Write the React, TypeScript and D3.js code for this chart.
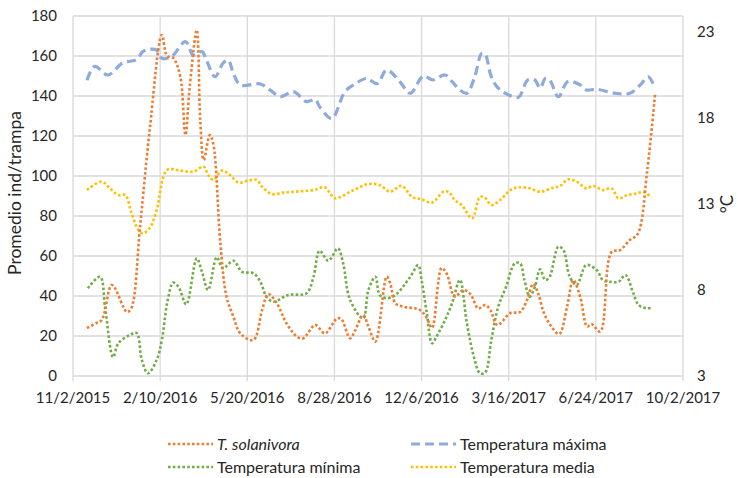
import React from "react";
import * as d3 from "d3";

// Day offsets from 2015-11-02, with values
const solanivora: [number, number][] = [
  [16, 24], [27, 26.5], [33, 28], [44, 45.5], [48, 44], [62, 32], [67, 34], [77, 75], [88, 123],
  [102, 170.5], [108, 160], [115, 159], [123, 150], [129, 120.5], [134, 145], [142, 173],
  [146, 128], [150, 108], [157, 120.5], [161, 116], [169, 67], [176, 40], [184, 29.7], [192, 21.3],
  [207, 18], [217, 33], [224, 41], [234, 36.3], [245, 26.3], [257, 19.7], [264, 18.8], [278, 25.5],
  [289, 21.3], [303, 28.8], [308, 28.4], [318, 18.8], [324, 23], [333, 30.5], [339, 24.7], [347, 17.2],
  [360, 49.7], [364, 46.3], [370, 36.3], [379, 34.7], [398, 33], [406, 29], [412, 24], [423, 54],
  [429, 51], [438, 39.7], [448, 43], [456, 41], [465, 33.8], [473, 35.5], [479, 33], [487, 25.5],
  [502, 31.5], [513, 32], [521, 38], [528, 46], [534, 41], [540, 32], [549, 24.7], [558, 21],
  [567, 34.7], [574, 48], [582, 39.7], [590, 24.7], [595, 26], [605, 22.2], [618, 62], [628, 63],
  [639, 68], [648, 71], [659, 103], [668, 141.3],
];

const tempMax: [number, number][] = [
  [16, 20.2], [25, 21.0], [40, 20.5], [57, 21.2], [73, 21.4], [80, 21.86], [88, 22.0], [96, 21.95],
  [102, 21.47], [113, 21.56], [129, 22.44], [138, 21.66], [148, 21.86], [153, 21.37], [163, 20.4],
  [172, 21.18], [178, 21.37], [184, 20.6], [192, 19.92], [215, 19.98], [226, 19.63], [238, 19.24],
  [253, 19.53], [268, 18.95], [278, 19.08], [283, 18.66], [297, 17.98], [312, 19.53], [322, 19.92],
  [337, 20.3], [349, 20.0], [360, 20.79], [375, 20.11], [387, 19.44], [402, 20.44], [413, 20.21],
  [427, 20.5], [435, 20.11], [444, 19.63], [452, 19.44], [461, 20.4], [469, 21.76], [473, 21.7],
  [480, 20.4], [488, 19.73], [500, 19.34], [511, 19.2], [522, 20.21], [530, 20.21], [536, 19.73],
  [542, 20.3], [547, 20.21], [557, 19.24], [568, 20.12], [582, 19.92], [589, 19.63], [601, 19.67],
  [622, 19.44], [639, 19.44], [651, 19.92], [660, 20.4], [668, 19.73],
];

const tempMin: [number, number][] = [
  [17, 8.1], [31, 8.77], [37, 6.9], [46, 4.1], [52, 4.9], [65, 5.38], [73, 5.5], [79, 3.93],
  [86, 3.16], [96, 3.93], [102, 5.09], [108, 7.23], [115, 8.43], [121, 8.19], [130, 7.17],
  [142, 9.84], [148, 9.06], [155, 8.0], [165, 9.9], [172, 9.26], [184, 9.7], [194, 9.06],
  [207, 8.97], [215, 8.48], [222, 7.61], [230, 7.32], [247, 7.71], [268, 7.81], [276, 8.77],
  [283, 10.28], [293, 9.7], [304, 10.42], [310, 9.55], [318, 7.42], [333, 6.35], [339, 8.0],
  [347, 8.77], [352, 7.71], [360, 7.52], [370, 7.71], [387, 8.77], [396, 9.45], [400, 8.58],
  [406, 6.65], [412, 4.9], [417, 5.28], [427, 6.26], [435, 7.23], [444, 8.58], [452, 6.06],
  [460, 4.12], [467, 3.16], [473, 3.2], [480, 5.09], [488, 7.03], [497, 8.19], [507, 9.55],
  [513, 9.55], [518, 8.58], [524, 7.61], [530, 8.19], [536, 9.2], [542, 8.58], [547, 8.77],
  [557, 10.52], [563, 10.3], [570, 8.77], [578, 8.29], [589, 9.45], [601, 9.16], [608, 8.58],
  [616, 8.48], [626, 8.48], [634, 8.87], [643, 7.81], [649, 7.13], [658, 6.94], [664, 6.97],
];

const tempMedia: [number, number][] = [
  [16, 13.81], [33, 14.3], [42, 13.93], [52, 13.52], [60, 13.52], [67, 12.48], [75, 11.49],
  [80, 11.3], [88, 11.6], [96, 12.65], [108, 14.98], [123, 14.94], [138, 14.88], [150, 15.17],
  [155, 14.69], [161, 14.4], [171, 14.94], [180, 14.69], [190, 14.24], [201, 14.36], [211, 14.4],
  [217, 14.0], [228, 13.58], [241, 13.66], [253, 13.71], [276, 13.81], [289, 13.97], [295, 13.62],
  [301, 13.33], [322, 13.81], [339, 14.16], [352, 14.1], [364, 13.71], [377, 14.06], [389, 13.42],
  [400, 13.27], [412, 13.08], [425, 13.71], [431, 13.71], [438, 13.23], [446, 12.94], [458, 12.17],
  [467, 13.42], [473, 13.35], [480, 12.94], [490, 13.23], [502, 13.81], [511, 13.97], [524, 13.91],
  [536, 13.71], [551, 13.95], [559, 14.05], [568, 14.43], [578, 14.3], [589, 13.91], [597, 14.05],
  [608, 13.81], [618, 13.91], [626, 13.33], [636, 13.52], [648, 13.62], [654, 13.71], [664, 13.38],
];

const leftTicks = [0, 20, 40, 60, 80, 100, 120, 140, 160, 180];
const rightTicks = [3, 8, 13, 18, 23];
const xTickDays = [0, 100, 200, 300, 400, 500, 600, 700];
const legendLabels = ["T. solanivora", "Temperatura máxima", "Temperatura mínima", "Temperatura media"];

const START = Date.UTC(2015, 10, 2);
const DAY = 86400000;
const toDate = (d: number) => new Date(START + d * DAY);

const W = 738;
const H = 478;
const L = 73;
const R = 683;
const T = 16;
const B = 376;
const FONT = "Lato, 'Open Sans', sans-serif";

export default function App() {
  const x = d3.scaleUtc().domain([toDate(0), toDate(700)]).range([L, R]);
  const yL = d3.scaleLinear().domain([0, 180]).range([B, T]);
  const yR = d3.scaleLinear().domain([3, 23.93]).range([B, T]);
  const fmt = (d: Date) => `${d.getUTCMonth() + 1}/${d.getUTCDate()}/${d.getUTCFullYear()}`;

  const curve = d3.curveCatmullRom.alpha(0.5);
  const lineL = d3.line<[number, number]>().x((p) => x(toDate(p[0]))).y((p) => yL(p[1])).curve(curve);
  const lineR = d3.line<[number, number]>().x((p) => x(toDate(p[0]))).y((p) => yR(p[1])).curve(curve);

  const dot = { strokeWidth: 2.6, strokeDasharray: "2.6,2.2", fill: "none" } as const;
  const dash = { strokeWidth: 3.2, strokeDasharray: "9,5", fill: "none" } as const;

  const orange = "#ED7D31";
  const blue = "#8FAADC";
  const green = "#70AD47";
  const yellow = "#FFC000";

  const legend = [
    { label: legendLabels[0], color: orange, style: dot, lx: 168, ly: 444, italic: true },
    { label: legendLabels[1], color: blue, style: dash, lx: 411, ly: 444, italic: false },
    { label: legendLabels[2], color: green, style: dot, lx: 168, ly: 467, italic: false },
    { label: legendLabels[3], color: yellow, style: dot, lx: 411, ly: 467, italic: false },
  ];

  return (
    <svg width={W} height={H} style={{ position: "absolute", left: 0, top: 0, background: "#fff" }} fontFamily={FONT}>
      <rect x={0} y={0} width={W} height={H} fill="#fff" />
      {leftTicks.map((t) => (
        <line key={"h" + t} x1={L} x2={R} y1={yL(t)} y2={yL(t)} stroke="#d9d9d9" strokeWidth={1.3} />
      ))}
      {xTickDays.map((d) => (
        <line key={"v" + d} x1={x(toDate(d))} x2={x(toDate(d))} y1={T} y2={B + 5} stroke="#d9d9d9" strokeWidth={1.3} />
      ))}
      {leftTicks.map((t) => (
        <text key={"lt" + t} x={57} y={yL(t)} dy="0.35em" textAnchor="end" fontSize={15} fill="#262626">
          {t}
        </text>
      ))}
      {rightTicks.map((t) => (
        <text key={"rt" + t} x={697} y={yR(t)} dy="0.35em" textAnchor="start" fontSize={15} fill="#262626">
          {t}
        </text>
      ))}
      {xTickDays.map((d) => (
        <text key={"xt" + d} x={x(toDate(d))} y={398} dy="0.35em" textAnchor="middle" fontSize={15} fill="#262626">
          {fmt(toDate(d))}
        </text>
      ))}
      <text transform={`translate(15,${(T + B) / 2 - 3}) rotate(-90)`} textAnchor="middle" dy="0.35em" fontSize={17.5} fill="#262626">
        Promedio ind/trampa
      </text>
      <text transform={`translate(727,${(T + B) / 2 + 8}) rotate(-90)`} textAnchor="middle" dy="0.35em" fontSize={17} fill="#262626">
        °C
      </text>

      <path d={lineR(tempMax) || ""} stroke={blue} {...dash} />
      <path d={lineR(tempMedia) || ""} stroke={yellow} {...dot} />
      <path d={lineR(tempMin) || ""} stroke={green} {...dot} />
      <path d={lineL(solanivora) || ""} stroke={orange} {...dot} />

      {legend.map((g) => (
        <g key={g.label}>
          <line x1={g.lx} x2={g.lx + 45} y1={g.ly} y2={g.ly} stroke={g.color} {...g.style} />
          <text x={g.lx + 49} y={g.ly} dy="0.35em" fontSize={16} fill="#262626" fontStyle={g.italic ? "italic" : "normal"}>
            {g.label}
          </text>
        </g>
      ))}
    </svg>
  );
}
